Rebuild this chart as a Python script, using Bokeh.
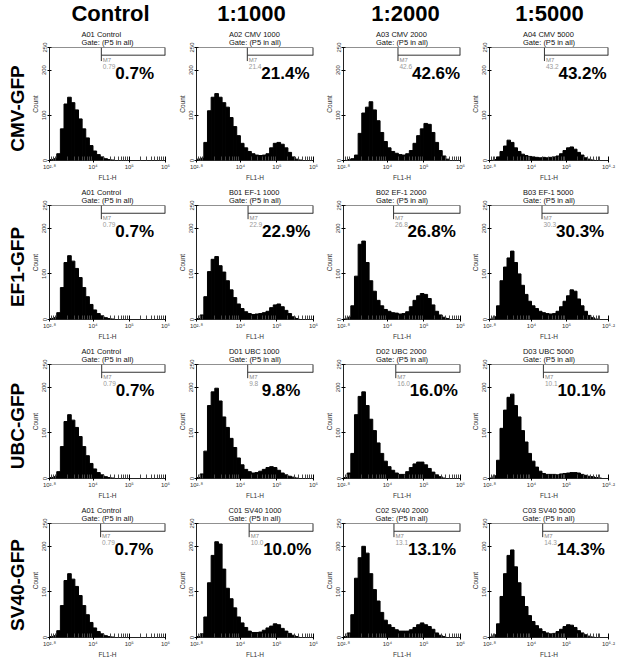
import numpy as np
from math import pi
from bokeh.plotting import figure
from bokeh.layouts import gridplot, column, row
from bokeh.models import Range1d, FixedTicker, Label, Span, ColumnDataSource
from bokeh.core.properties import value
from bokeh.embed import file_html
from bokeh.resources import INLINE

# ---------------- data ----------------
dilutions = ["Control", "1:1000", "1:2000", "1:5000"]
promoters = ["CMV-GFP", "EF1-GFP", "UBC-GFP", "SV40-GFP"]
sample_names = [
    ["A01 Control", "A02 CMV 1000", "A03 CMV 2000", "A04 CMV 5000"],
    ["A01 Control", "B01 EF-1 1000", "B02 EF-1 2000", "B03 EF-1 5000"],
    ["A01 Control", "D01 UBC 1000", "D02 UBC 2000", "D03 UBC 5000"],
    ["A01 Control", "C01 SV40 1000", "C02 SV40 2000", "C03 SV40 5000"],
]
gate_name = "Gate: (P5 in all)"
marker_name = "M7"
gate_percent = [
    ["0.7%", "21.4%", "42.6%", "43.2%"],
    ["0.7%", "22.9%", "26.8%", "30.3%"],
    ["0.7%", "9.8%", "16.0%", "10.1%"],
    ["0.7%", "10.0%", "13.1%", "14.3%"],
]
gate_raw = [
    ["0.79", "21.4", "42.6", "43.2"],
    ["0.79", "22.9", "26.8", "30.3"],
    ["0.79", "9.8", "16.0", "10.1"],
    ["0.79", "10.0", "13.1", "14.3"],
]
gate_start = [
    [4.23, 4.19, 4.29, 4.37],
    [4.23, 4.21, 4.17, 4.30],
    [4.24, 4.20, 4.23, 4.34],
    [4.21, 4.24, 4.18, 4.32],
]
gate_line_count = 233
gate_tick_count = 220

fl1_bin_left = [2.8, 2.9, 3.0, 3.1, 3.2, 3.3, 3.4, 3.5, 3.6, 3.7, 3.8, 3.9,
                4.0, 4.1, 4.2, 4.3, 4.4, 4.5, 4.6, 4.7, 4.8, 4.9, 5.0, 5.1,
                5.2, 5.3, 5.4, 5.5, 5.6, 5.7, 5.8, 5.9, 6.0, 6.1]
bin_width = 0.1
fl1_max = [6.0, 6.0, 6.0, 6.2]
fl1_ticks = {6.0: [2.8, 4, 5, 6], 6.2: [2.8, 4, 5, 6.2]}
fl1_tick_labels = {6.0: ["10²·⁸", "10⁴", "10⁵", "10⁶"], 6.2: ["10²·⁸", "10⁴", "10⁵", "10⁶·²"]}
count_ticks = [0, 100, 200, 250]
count_tick_labels = ["0", "100", "200", "250"]

control_counts = [2, 4, 15, 70, 125, 140, 128, 112, 92, 70, 50, 33, 21, 13, 8, 4, 2, 1,
                  0, 0, 0, 0, 0, 0, 0, 0, 0, 0, 0, 0, 0, 0, 0, 0]
cmv_1000 = [3, 5, 40, 110, 140, 148, 140, 128, 118, 95, 75, 55, 38, 28, 20, 15, 12, 11,
            12, 15, 28, 38, 40, 36, 28, 18, 8, 3, 1, 0, 0, 0, 0, 0]
cmv_2000 = [0, 2, 4, 12, 60, 105, 118, 130, 112, 88, 62, 42, 28, 20, 16, 13, 12, 15,
            22, 38, 55, 70, 82, 80, 62, 40, 22, 10, 3, 0, 0, 0, 0, 0]
cmv_5000 = [0, 2, 8, 20, 32, 45, 40, 28, 20, 14, 11, 9, 8, 7, 6, 7, 6, 7,
            8, 10, 15, 22, 28, 30, 25, 18, 12, 6, 3, 1, 0, 0, 0, 0]
ef1_1000 = [2, 10, 50, 105, 132, 138, 118, 104, 85, 65, 48, 34, 24, 17, 13, 11, 12, 13,
            15, 18, 26, 32, 34, 28, 20, 13, 6, 2, 0, 0, 0, 0, 0, 0]
ef1_2000 = [1, 5, 30, 95, 165, 172, 125, 85, 62, 42, 30, 22, 18, 15, 14, 12, 13, 17,
            28, 42, 52, 57, 55, 46, 32, 18, 10, 5, 2, 0, 0, 0, 0, 0]
ef1_5000 = [1, 6, 30, 85, 115, 135, 150, 125, 100, 75, 55, 40, 30, 24, 18, 15, 13, 12,
            13, 18, 28, 40, 52, 65, 62, 45, 30, 18, 9, 4, 1, 0, 0, 0]
ubc_1000 = [2, 10, 60, 160, 190, 198, 170, 135, 112, 88, 68, 45, 30, 20, 15, 12, 13, 16,
            20, 24, 26, 24, 18, 12, 8, 5, 3, 1, 0, 0, 0, 0, 0, 0]
ubc_2000 = [2, 12, 55, 140, 180, 190, 160, 130, 105, 78, 55, 38, 26, 18, 12, 9, 9, 15,
            24, 32, 36, 36, 30, 22, 14, 8, 4, 1, 0, 0, 0, 0, 0, 0]
ubc_5000 = [1, 6, 40, 110, 150, 178, 185, 160, 135, 105, 80, 55, 38, 25, 16, 11, 9, 9,
            9, 8, 10, 11, 12, 13, 13, 12, 9, 7, 5, 4, 2, 1, 0, 0]
sv40_1000 = [2, 8, 45, 120, 180, 210, 205, 150, 108, 85, 65, 45, 32, 22, 14, 11, 11, 12,
             16, 21, 25, 30, 28, 20, 14, 9, 5, 2, 0, 0, 0, 0, 0, 0]
sv40_2000 = [2, 10, 50, 130, 175, 200, 185, 140, 105, 80, 55, 38, 28, 22, 17, 14, 14, 14,
             17, 22, 28, 32, 28, 24, 18, 10, 5, 2, 0, 0, 0, 0, 0, 0]
sv40_5000 = [1, 6, 30, 90, 140, 180, 192, 155, 120, 90, 68, 48, 35, 26, 19, 13, 10, 8,
             9, 13, 18, 24, 28, 27, 22, 15, 10, 6, 3, 1, 0, 0, 0, 0]

counts = [
    [control_counts, cmv_1000, cmv_2000, cmv_5000],
    [control_counts, ef1_1000, ef1_2000, ef1_5000],
    [control_counts, ubc_1000, ubc_2000, ubc_5000],
    [control_counts, sv40_1000, sv40_2000, sv40_5000],
]

# ---------------- layout (pixels) ----------------
HEADER_H = 25
SIDE_W = 28
col_w = [146, 148, 146, 150]
col_bl = [20, 22, 18, 18]
col_br = [9, 9, 8, 10]
row_h = [158, 159, 159, 159]
row_bt = [22, 22, 22, 22]
row_bb = [20, 20, 20, 20]
header_x = [110, 251, 405, 549]
side_label_x = 16.5
side_label_dy = 3

FONT = "Liberation Sans"


def minor_ticks(xmax):
    out = []
    for k in (2, 3, 4, 5, 6):
        for m in range(2, 10):
            v = k + float(np.log10(m))
            if 2.8 < v < xmax - 0.01:
                out.append(v)
    return out


def panel(r, c):
    xmax = fl1_max[c]
    fh = row_h[r] - row_bt[r] - row_bb[r]
    p = figure(width=col_w[c], height=row_h[r],
               x_range=Range1d(2.8, xmax), y_range=Range1d(0, 250),
               output_backend="svg", toolbar_location=None,
               min_border_left=col_bl[c], min_border_right=col_br[c],
               min_border_top=row_bt[r], min_border_bottom=row_bb[r])
    p.outline_line_color = None
    p.grid.visible = False
    p.background_fill_color = "white"
    p.border_fill_color = "white"

    # two-line sample title
    p.title.text = sample_names[r][c] + "\n" + gate_name
    p.title.align = "center"
    p.title.text_font = FONT
    p.title.text_font_size = "7.5px"
    p.title.text_font_style = "normal"
    p.title.text_color = "#111"
    p.title.text_line_height = 0.95
    p.title.standoff = 0

    src = ColumnDataSource(dict(
        left=fl1_bin_left,
        right=[b + bin_width for b in fl1_bin_left],
        top=counts[r][c],
    ))
    p.quad(left="left", right="right", bottom=0, top="top", source=src,
           fill_color="black", line_color="black", line_width=1)

    # top line and gate marker
    p.add_layout(Span(location=250, dimension="width", line_color="#222", line_width=1.2))
    g = gate_start[r][c]
    p.segment(x0=[g, g], y0=[gate_line_count, 250], x1=[xmax, g], y1=[gate_line_count, gate_tick_count],
              line_color="#333", line_width=1)
    p.segment(x0=[xmax], y0=[250], x1=[xmax], y1=[gate_line_count], line_color="#333", line_width=2)

    # axes
    ya = p.yaxis[0]
    ya.ticker = FixedTicker(ticks=count_ticks)
    ya.major_label_overrides = {t: l for t, l in zip(count_ticks, count_tick_labels)}
    ya.major_label_orientation = "vertical"
    ya.major_label_text_font = FONT
    ya.major_label_text_font_size = "6px"
    ya.major_label_text_color = "#333"
    ya.major_label_standoff = 1
    ya.major_tick_in = 2
    ya.major_tick_out = 2
    ya.minor_tick_in = 0
    ya.minor_tick_out = 0
    ya.axis_label = "Count"
    ya.axis_label_text_font = FONT
    ya.axis_label_text_font_size = "6.5px"
    ya.axis_label_text_font_style = "normal"
    ya.axis_label_text_color = "#333"
    ya.axis_label_standoff = 1
    ya.axis_line_color = "#222"

    xa = p.xaxis[0]
    ticks = fl1_ticks[xmax]
    xa.ticker = FixedTicker(ticks=ticks, minor_ticks=minor_ticks(xmax))
    xa.major_label_overrides = {t: l for t, l in zip(ticks, fl1_tick_labels[xmax])}
    xa.major_label_text_font = FONT
    xa.major_label_text_font_size = "6px"
    xa.major_label_text_color = "#333"
    xa.major_label_standoff = 1
    xa.major_tick_in = 4
    xa.major_tick_out = 2
    xa.minor_tick_in = 4
    xa.minor_tick_out = 0
    xa.minor_tick_line_color = "#444"
    xa.axis_label = "FL1-H"
    xa.axis_label_text_font = FONT
    xa.axis_label_text_font_size = "6.5px"
    xa.axis_label_text_font_style = "normal"
    xa.axis_label_text_color = "#333"
    xa.axis_label_standoff = 1
    xa.axis_line_color = "#222"

    # gate texts (inside frame)
    p.add_layout(Label(x=g, y=fh - 15, x_units="data", y_units="screen", x_offset=1.5,
                       text=marker_name, text_align="left", text_baseline="alphabetic",
                       text_font=FONT, text_font_size="6px", text_color="#888"))
    p.add_layout(Label(x=g, y=fh - 22, x_units="data", y_units="screen", x_offset=1.5,
                       text=gate_raw[r][c], text_align="left", text_baseline="alphabetic",
                       text_font=FONT, text_font_size="6.5px", text_color="#999"))
    p.add_layout(Label(x=g, y=fh - 28.5, x_units="data", y_units="screen", x_offset=14,
                       text=gate_percent[r][c], text_align="left", text_baseline="alphabetic",
                       text_font=FONT, text_font_size="17px", text_font_style="bold",
                       text_color="black"))
    return p


panels = [[panel(r, c) for c in range(4)] for r in range(4)]
grid = gridplot(panels, toolbar_location=None)

# column headers: a strip above the grid, in pixel coordinates
total_w = SIDE_W + sum(col_w)
header = figure(width=total_w, height=HEADER_H, x_range=Range1d(0, total_w),
                y_range=Range1d(0, HEADER_H), output_backend="svg", toolbar_location=None,
                title=None, min_border=0, x_axis_location=None, y_axis_location=None)
header.outline_line_color = None
header.grid.visible = False
header.text(x=header_x, y=[HEADER_H / 2] * 4, text=dilutions,
            text_align="center", text_baseline="middle", text_font=value(FONT),
            text_font_size="22px", text_font_style="bold", text_color="black")

# row labels: a strip left of the grid, in pixel coordinates
total_h = sum(row_h)
frame_cy = []
y0 = 0
for r in range(4):
    ft = y0 + row_bt[r]
    fb = y0 + row_h[r] - row_bb[r]
    frame_cy.append(total_h - ((ft + fb) / 2 + side_label_dy))
    y0 += row_h[r]
side = figure(width=SIDE_W, height=total_h, x_range=Range1d(0, SIDE_W),
              y_range=Range1d(0, total_h), output_backend="svg", toolbar_location=None,
              title=None, min_border=0, x_axis_location=None, y_axis_location=None)
side.outline_line_color = None
side.grid.visible = False
side.text(x=[side_label_x] * 4, y=frame_cy, text=promoters, angle=pi / 2,
          text_align="center", text_baseline="middle",
          text_font=value(FONT), text_font_size="19px",
          text_font_style="bold", text_color="black")

layout = column(header, row(side, grid))
open("out.html", "w").write(file_html(layout, INLINE))
